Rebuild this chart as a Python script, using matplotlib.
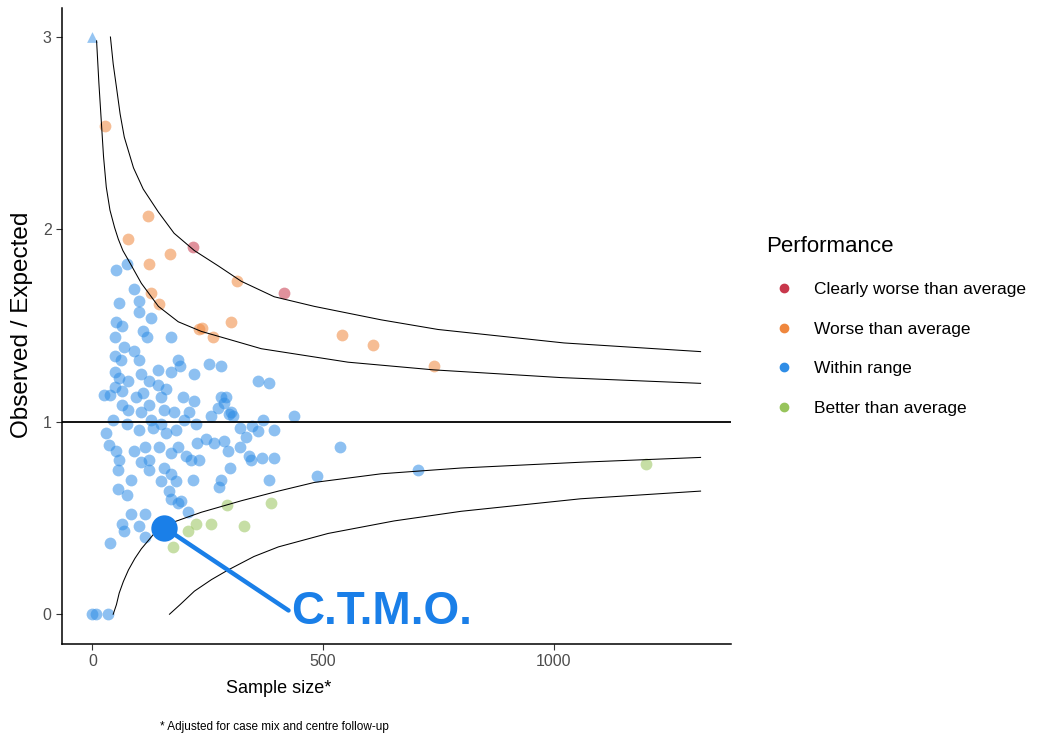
import numpy as np
import matplotlib
matplotlib.use("Agg")
from matplotlib import pyplot as plt
from matplotlib.lines import Line2D

plt.rcParams['font.family'] = ['Liberation Sans', 'DejaVu Sans']

# centres (x = sample size, y = observed / expected)
within_x = [52, 74, 91, 102, 58, 100, 128, 52, 65, 110, 119, 171, 48, 69, 91, 48, 61, 100, 186, 190,
            253, 279, 221, 143, 171, 48, 58, 78, 106, 123, 143, 48, 63, 26, 37, 110, 149, 197, 221, 279,
            286, 359, 383, 78, 106, 156, 177, 210, 273, 301, 290, 258, 297, 305, 370, 437, 320, 346, 359, 394,
            333, 320, 227, 247, 264, 286, 294, 203, 214, 232, 340, 344, 368, 394, 537, 299, 219, 279, 275, 383,
            487, 706, 193, 208, 30, 100, 132, 160, 182, 35, 52, 89, 113, 145, 186, 171, 58, 106, 123, 56,
            123, 156, 171, 84, 149, 182, 56, 74, 167, 171, 186, 84, 113, 63, 100, 69, 113, 37,
            128, 149, 199, 225, 63, 95, 123, 160, 74, 45, 0, 8, 34]
within_y = [1.79, 1.82, 1.69, 1.63, 1.62, 1.57, 1.54, 1.52, 1.50, 1.47, 1.44, 1.44, 1.44, 1.39, 1.37, 1.34, 1.32, 1.32, 1.32, 1.29,
            1.30, 1.29, 1.25, 1.27, 1.26, 1.26, 1.23, 1.21, 1.25, 1.21, 1.19, 1.18, 1.16, 1.14, 1.14, 1.15, 1.13, 1.13, 1.11, 1.13,
            1.10, 1.21, 1.20, 1.06, 1.05, 1.06, 1.05, 1.05, 1.07, 1.05, 1.13, 1.03, 1.04, 1.03, 1.01, 1.03, 0.97, 0.98, 0.95, 0.96,
            0.92, 0.87, 0.89, 0.91, 0.89, 0.90, 0.85, 0.82, 0.80, 0.80, 0.82, 0.80, 0.81, 0.81, 0.87, 0.76, 0.70, 0.70, 0.66, 0.70,
            0.72, 0.75, 0.59, 0.53, 0.94, 0.96, 0.97, 0.94, 0.96, 0.88, 0.85, 0.85, 0.87, 0.87, 0.87, 0.84, 0.80, 0.79, 0.80, 0.75,
            0.75, 0.76, 0.73, 0.70, 0.69, 0.69, 0.65, 0.62, 0.64, 0.60, 0.58, 0.52, 0.52, 0.47, 0.46, 0.43, 0.40, 0.37,
            1.01, 0.99, 1.01, 0.99, 1.09, 1.13, 1.09, 1.17, 0.99, 1.01, 0.0, 0.0, 0.0]
within_clipped_x = [0]
within_clipped_y = [3.0]

worse_x = [28, 121, 76, 123, 169, 128, 145, 314, 232, 238, 262, 301, 541, 608, 740]
worse_y = [2.54, 2.07, 1.95, 1.82, 1.87, 1.67, 1.61, 1.73, 1.48, 1.49, 1.44, 1.52, 1.45, 1.40, 1.29]

clearly_worse_x = [219, 416]
clearly_worse_y = [1.91, 1.67]

better_x = [292, 387, 225, 258, 329, 208, 175, 1199]
better_y = [0.57, 0.58, 0.47, 0.47, 0.46, 0.43, 0.35, 0.78]

ctmo_x = 156
ctmo_y = 0.45

# funnel limits
upper_outer_x = [39, 45, 52, 60, 69, 89, 110, 143, 177, 221, 273, 323, 394, 481, 626, 749, 1022, 1318]
upper_outer_y = [3.00, 2.86, 2.74, 2.60, 2.48, 2.32, 2.21, 2.09, 1.98, 1.89, 1.81, 1.73, 1.65, 1.60, 1.53, 1.48, 1.41, 1.365]
upper_inner_x = [9, 14, 19, 24, 30, 38, 48, 56, 66, 78, 106, 143, 186, 236, 294, 366, 554, 740, 1015, 1318]
upper_inner_y = [2.98, 2.76, 2.57, 2.38, 2.22, 2.10, 2.01, 1.95, 1.89, 1.84, 1.72, 1.60, 1.52, 1.47, 1.43, 1.38, 1.31, 1.27, 1.23, 1.20]
lower_inner_x = [45, 52, 58, 67, 78, 92, 106, 134, 177, 236, 323, 403, 481, 626, 799, 1058, 1318]
lower_inner_y = [0.0, 0.05, 0.11, 0.17, 0.23, 0.29, 0.34, 0.42, 0.48, 0.53, 0.59, 0.64, 0.685, 0.73, 0.76, 0.79, 0.815]
lower_outer_x = [167, 190, 221, 258, 294, 350, 403, 511, 654, 799, 1058, 1318]
lower_outer_y = [0.0, 0.05, 0.12, 0.18, 0.23, 0.30, 0.35, 0.42, 0.485, 0.535, 0.60, 0.64]

categories = ['Clearly worse than average', 'Worse than average', 'Within range', 'Better than average']
colors = ['#c8374b', '#ef873d', '#2f8de6', '#97c45b']

fig = plt.figure(figsize=(10.4, 7.42), dpi=100)
ax = fig.add_axes([0.0596, 0.132, 0.6433, 0.857])

# points
pt = dict(s=72, alpha=0.55, linewidths=0, zorder=2)
ax.scatter(within_x, within_y, color=colors[2], **pt)
ax.scatter(within_clipped_x, within_clipped_y, color=colors[2], marker='^', s=60, alpha=0.5, linewidths=0, zorder=2)
ax.scatter(worse_x, worse_y, color=colors[1], **pt)
ax.scatter(clearly_worse_x, clearly_worse_y, color=colors[0], **pt)
ax.scatter(better_x, better_y, color=colors[3], **pt)

# funnel
for fx, fy in [(upper_outer_x, upper_outer_y), (upper_inner_x, upper_inner_y),
               (lower_inner_x, lower_inner_y), (lower_outer_x, lower_outer_y)]:
    ax.plot(fx, fy, color='black', lw=0.75, zorder=3)
ax.axhline(1, color='black', lw=1.3, zorder=3)

# highlighted centre
ax.scatter([ctmo_x], [ctmo_y], color='#1a7fe8', s=360, linewidths=0, zorder=5)
ax.annotate('C.T.M.O.', xy=(ctmo_x, ctmo_y), xytext=(431, 0.01),
            fontsize=33, fontweight='bold', color='#1a7fe8', ha='left', va='center',
            arrowprops=dict(arrowstyle='-', color='#1a7fe8', lw=3.2, shrinkA=0, shrinkB=2,
                            relpos=(0, 0.5)), zorder=5)

ax.set_xlim(-66, 1384)
ax.set_ylim(-0.155, 3.15)
ax.set_xticks([0, 500, 1000])
ax.set_yticks([0, 1, 2, 3])
ax.tick_params(colors='#333333', labelcolor='#4d4d4d', labelsize=11.5, length=4, width=0.8)
for side in ['top', 'right']:
    ax.spines[side].set_visible(False)
for side in ['left', 'bottom']:
    ax.spines[side].set_linewidth(1.1)
    ax.spines[side].set_color('black')

ax.set_xlabel('Sample size*', fontsize=13)
ax.xaxis.set_label_coords(0.324, -0.057)
ax.set_ylabel('Observed / Expected', fontsize=17.5)
ax.yaxis.label.set_va('center')
ax.yaxis.set_label_coords(-0.06, 0.502)

fig.text(274 / 1040, 1 - 727 / 742, '* Adjusted for case mix and centre follow-up',
         ha='center', va='center', fontsize=8.5)

# legend
handles = [Line2D([], [], marker='o', ls='', color=c, markersize=6) for c in colors]
leg = fig.legend(handles, categories, title='Performance', loc='upper left',
                 bbox_to_anchor=(0.722, 0.703), frameon=False, fontsize=12.5,
                 title_fontsize=16, labelspacing=1.42, handletextpad=0.75,
                 alignment='left')

fig.savefig('out.png', dpi=100)
